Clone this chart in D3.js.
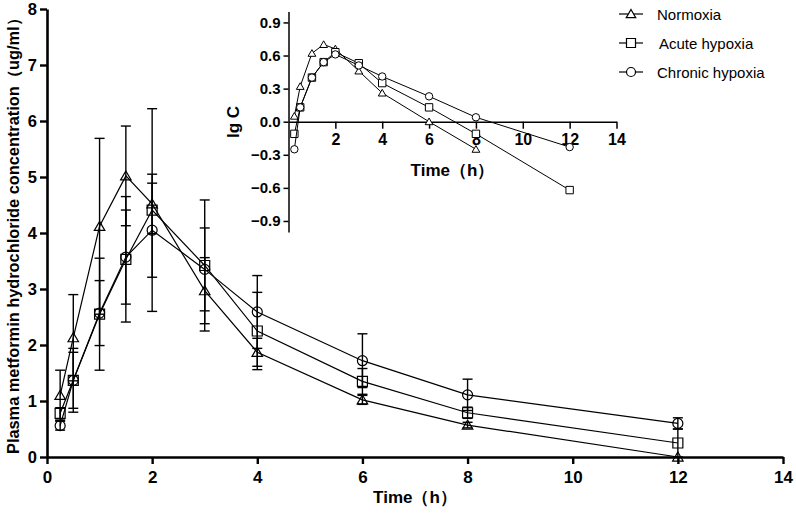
<!DOCTYPE html>
<html>
<head>
<meta charset="utf-8">
<script src="https://cdn.jsdelivr.net/npm/d3@7"></script>
<style>
  body { margin: 0; background: #fff; }
  svg { display: block; font-family: "Liberation Sans", Arial, sans-serif; }
  .axis path, .axis line { stroke: #000; }
  .axis text { fill: #000; font-weight: bold; }
</style>
</head>
<body>
<svg id="chart" width="796" height="517"></svg>
<script>
// sampling times (h)
const times = [0.25, 0.5, 1, 1.5, 2, 3, 4, 6, 8, 12];

// plasma concentration, mean and SD (ug/ml)
const normoxia   = [1.10, 2.13, 4.12, 5.02, 4.52, 2.97, 1.87, 1.02, 0.57, 0.00];
const normoxiaSD = [0.45, 0.77, 1.57, 0.89, 0.53, 0.59, 0.25, 0.08, 0.05, 0.00];
const acute      = [0.78, 1.37, 2.55, 3.53, 4.41, 3.42, 2.25, 1.35, 0.79, 0.25];
const acuteSD    = [0.10, 0.50, 1.00, 1.12, 1.81, 1.17, 0.69, 0.23, 0.10, 0.25];
const chronic    = [0.56, 1.37, 2.57, 3.57, 4.05, 3.35, 2.59, 1.72, 1.11, 0.60];
const chronicSD  = [0.08, 0.57, 0.58, 0.84, 0.84, 0.74, 0.65, 0.48, 0.28, 0.10];

// inset: lg C (normoxia has no 12 h point)
const lgNormoxia = [0.05, 0.32, 0.62, 0.70, 0.66, 0.46, 0.26, 0.00, -0.25];
const lgAcute    = [-0.11, 0.13, 0.40, 0.54, 0.63, 0.53, 0.35, 0.13, -0.11, -0.62];
const lgChronic  = [-0.25, 0.13, 0.40, 0.54, 0.61, 0.51, 0.41, 0.23, 0.04, -0.23];

const seriesNames = ["Normoxia", "Acute hypoxia", "Chronic hypoxia"];
const seriesShapes = ["triangle", "square", "circle"];
const mainTicksX = [0, 2, 4, 6, 8, 10, 12, 14];
const mainTicksY = [0, 1, 2, 3, 4, 5, 6, 7, 8];
const insetTicksX = [2, 4, 6, 8, 10, 12, 14];
const insetTicksY = [0.9, 0.6, 0.3, 0, -0.3, -0.6, -0.9];

const svg = d3.select("#chart");

//marker path centred at 0,0
function markerPath(shape, r) {
  if (shape === "triangle") {
    const h = r * 1.8;
    return `M0,${-h * 0.55}L${r * 1.05},${h * 0.45}L${-r * 1.05},${h * 0.45}Z`;
  }
  if (shape === "square") {
    return `M${-r},${-r}H${r}V${r}H${-r}Z`;
  }
  return `M${r},0A${r},${r} 0 1,1 ${-r},0A${r},${r} 0 1,1 ${r},0Z`;
}

// ---------- main chart ----------
const x = d3.scaleLinear().domain([0, 14]).range([47, 783]);
const y = d3.scaleLinear().domain([0, 8]).range([457, 9]);

const mainSeries = [
  { means: normoxia, sd: normoxiaSD, shape: "triangle" },
  { means: acute, sd: acuteSD, shape: "square" },
  { means: chronic, sd: chronicSD, shape: "circle" }
];

const main = svg.append("g");

const line = d3.line().x(d => x(d.t)).y(d => y(d.v));

mainSeries.forEach(s => {
  const pts = times.map((t, i) => ({ t: t, v: s.means[i], sd: s.sd[i] }));

  main.append("path").datum(pts)
    .attr("d", line)
    .attr("fill", "none")
    .attr("stroke", "#000")
    .attr("stroke-width", 1.2);

  //error bars
  const eb = main.append("g").attr("stroke", "#000").attr("stroke-width", 1.4);
  pts.filter(d => d.sd > 0).forEach(d => {
    const cx = x(d.t);
    const top = y(d.v + d.sd), bot = y(Math.max(0, d.v - d.sd));
    eb.append("line").attr("x1", cx).attr("x2", cx).attr("y1", top).attr("y2", bot);
    eb.append("line").attr("x1", cx - 5).attr("x2", cx + 5).attr("y1", top).attr("y2", top);
    eb.append("line").attr("x1", cx - 5).attr("x2", cx + 5).attr("y1", bot).attr("y2", bot);
  });

  main.append("g").selectAll("path").data(pts)
    .join("path")
    .attr("transform", d => `translate(${x(d.t)},${y(d.v)})`)
    .attr("d", markerPath(s.shape, 5))
    .attr("fill", "none")
    .attr("stroke", "#000")
    .attr("stroke-width", 1.2);
});

const xAxis = main.append("g")
  .attr("class", "axis")
  .attr("transform", `translate(0,${y(0)})`)
  .call(d3.axisBottom(x).tickValues(mainTicksX).tickSize(7).tickSizeOuter(0).tickPadding(7));
xAxis.select(".domain").attr("stroke-width", 2.6);
xAxis.selectAll(".tick line").attr("stroke-width", 2.4);
xAxis.selectAll("text").attr("font-size", 17);

const yAxis = main.append("g")
  .attr("class", "axis")
  .attr("transform", `translate(${x(0)},0)`)
  .call(d3.axisLeft(y).tickValues(mainTicksY).tickSize(7).tickSizeOuter(0).tickPadding(3));
yAxis.select(".domain").attr("stroke-width", 2.6);
yAxis.selectAll(".tick line").attr("stroke-width", 2.4);
yAxis.selectAll("text").attr("font-size", 16.5);

main.append("text")
  .attr("x", x(7))
  .attr("y", 503)
  .attr("text-anchor", "middle")
  .attr("font-size", 17)
  .attr("font-weight", "bold")
  .text("Time（h）");

main.append("text")
  .attr("transform", "translate(13,232) rotate(-90)")
  .attr("text-anchor", "middle")
  .attr("dominant-baseline", "central")
  .attr("font-size", 16)
  .attr("font-weight", "bold")
  .attr("textLength", 444)
  .attr("lengthAdjust", "spacingAndGlyphs")
  .text("Plasma metformin hydrochloride concentration（ug/ml）");

// ---------- inset ----------
const ix = d3.scaleLinear().domain([0, 14]).range([288.5, 616.5]);
const iy = d3.scaleLinear().domain([-1, 1]).range([232, 11.4]);

const inset = svg.append("g");

const insetSeries = [
  { vals: lgNormoxia, shape: "triangle" },
  { vals: lgAcute, shape: "square" },
  { vals: lgChronic, shape: "circle" }
];

const iyAxis = inset.append("g")
  .attr("class", "axis")
  .attr("transform", `translate(${ix(0)},0)`)
  .call(d3.axisLeft(iy).tickValues(insetTicksY).tickFormat(d3.format(".1f")).tickSize(5).tickSizeOuter(0).tickPadding(3));
iyAxis.select(".domain").attr("stroke-width", 1.5);
iyAxis.selectAll(".tick line").attr("stroke-width", 1.5);
iyAxis.selectAll("text").attr("font-size", 15);

const ixAxis = inset.append("g")
  .attr("class", "axis")
  .attr("transform", `translate(0,${iy(0)})`)
  .call(d3.axisBottom(ix).tickValues(insetTicksX).tickSize(7).tickSizeOuter(0).tickPadding(5));
ixAxis.select(".domain").attr("stroke-width", 1.5);
ixAxis.selectAll(".tick line").attr("stroke-width", 1.5);
ixAxis.selectAll("text").attr("font-size", 16);

const iline = d3.line().x(d => ix(d.t)).y(d => iy(d.v));

insetSeries.forEach(s => {
  const pts = s.vals.map((v, i) => ({ t: times[i], v: v }));
  inset.append("path").datum(pts)
    .attr("d", iline)
    .attr("fill", "none")
    .attr("stroke", "#000")
    .attr("stroke-width", 1);
  inset.append("g").selectAll("path").data(pts)
    .join("path")
    .attr("transform", d => `translate(${ix(d.t)},${iy(d.v)})`)
    .attr("d", markerPath(s.shape, 3.7))
    .attr("fill", "#fff")
    .attr("stroke", "#000")
    .attr("stroke-width", 1);
});

inset.append("text")
  .attr("x", ix(7))
  .attr("y", 176)
  .attr("text-anchor", "middle")
  .attr("font-size", 17)
  .attr("font-weight", "bold")
  .text("Time（h）");

inset.append("text")
  .attr("transform", "translate(233,122) rotate(-90)")
  .attr("text-anchor", "middle")
  .attr("dominant-baseline", "central")
  .attr("font-size", 17)
  .attr("font-weight", "bold")
  .text("lg C");

// ---------- legend ----------
const legend = svg.append("g").attr("transform", "translate(631,14)");
seriesNames.forEach((name, i) => {
  const row = legend.append("g").attr("transform", `translate(0,${i * 29})`);
  row.append("line")
    .attr("x1", -12).attr("x2", 12)
    .attr("stroke", "#000").attr("stroke-width", 1.2);
  row.append("path")
    .attr("d", markerPath(seriesShapes[i], 4.5))
    .attr("fill", "#fff")
    .attr("stroke", "#000")
    .attr("stroke-width", 1.2);
  row.append("text")
    .attr("x", i === 1 ? 28 : 26)
    .attr("dominant-baseline", "central")
    .attr("font-size", 15)
    .text(name);
});
</script>
</body>
</html>
